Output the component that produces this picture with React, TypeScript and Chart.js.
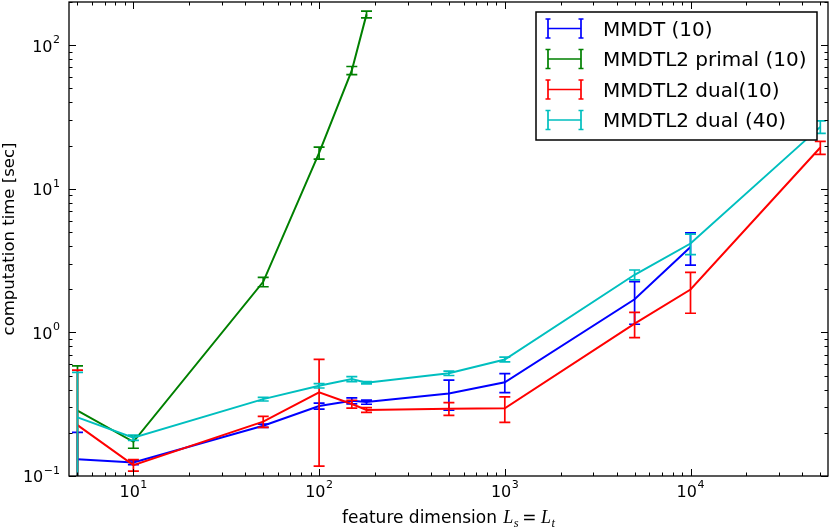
import React, { useEffect, useRef } from "react";
import { Chart, registerables } from "chart.js";

Chart.register(...registerables);

// feature dimensions (x) shared by all runs
const dims = [5, 10, 50, 100, 150, 180, 500, 1000, 5000, 10000, 50000];

const mmdtTime = [0.131, 0.124, 0.224, 0.307, 0.334, 0.327, 0.376, 0.449, 1.7, 3.94];
const mmdtErr = [0.07, 0.004, 0.006, 0.015, 0.016, 0.011, 0.089, 0.068, 0.56, 1.0];

const primalTime = [0.285, 0.173, 2.25, 17.8, 66.8, 164];
const primalErr = [0.3, 0.017, 0.17, 1.7, 4.3, 9];

const dual10Time = [0.226, 0.119, 0.239, 0.383, 0.317, 0.288, 0.294, 0.296, 1.15, 1.99, 19.4];
const dual10Err = [0.32, 0.011, 0.021, 0.266, 0.02, 0.011, 0.03, 0.06, 0.23, 0.63, 2.0];

const dual40Time = [0.256, 0.185, 0.343, 0.425, 0.473, 0.446, 0.519, 0.648, 2.52, 4.16, 27.0];
const dual40Err = [0.27, 0.008, 0.01, 0.015, 0.019, 0.008, 0.018, 0.025, 0.2, 0.68, 2.7];

const xDecades = [10, 100, 1000, 10000];
const yDecades = [0.1, 1, 10, 100];

const series = [
  { label: "MMDT (10)", color: "#0000ff", values: mmdtTime, errors: mmdtErr },
  { label: "MMDTL2 primal (10)", color: "#008000", values: primalTime, errors: primalErr },
  { label: "MMDTL2 dual(10)", color: "#ff0000", values: dual10Time, errors: dual10Err },
  { label: "MMDTL2 dual (40)", color: "#00bfbf", values: dual40Time, errors: dual40Err },
];

const FONT = '"DejaVu Sans", sans-serif';
const MATH = '"Liberation Serif", "DejaVu Serif", serif';
const CAP = 5.5;

const drawPower = (ctx: CanvasRenderingContext2D, value: number, x: number, y: number, align: "center" | "right") => {
  const exp = Math.round(Math.log10(value));
  const sup = exp < 0 ? "\u2212" + -exp : String(exp);
  ctx.font = `16px ${FONT}`;
  const wb = ctx.measureText("10").width;
  ctx.font = `11px ${FONT}`;
  const ws = ctx.measureText(sup).width;
  const total = wb + 0.5 + ws;
  const x0 = align === "center" ? x - total / 2 : x - total;
  ctx.textAlign = "left";
  ctx.textBaseline = "alphabetic";
  ctx.fillStyle = "#000";
  ctx.font = `16px ${FONT}`;
  ctx.fillText("10", x0, y);
  ctx.font = `11px ${FONT}`;
  ctx.fillText(sup, x0 + wb + 0.5, y - 8.5);
};

const errorBars = {
  id: "errorBars",
  afterDatasetDraw(chart: Chart, args: { index: number }) {
    const s = series[args.index];
    const { ctx, chartArea: a } = chart;
    const xs = chart.scales.x;
    const ys = chart.scales.y;
    ctx.save();
    ctx.beginPath();
    ctx.rect(a.left, a.top, a.right - a.left, a.bottom - a.top);
    ctx.clip();
    ctx.strokeStyle = s.color;
    ctx.lineWidth = 1.7;
    s.values.forEach((v, i) => {
      const px = xs.getPixelForValue(dims[i]);
      const hi = v + s.errors[i];
      const lo = v - s.errors[i];
      const pHi = ys.getPixelForValue(hi);
      const pLo = lo > 0 ? ys.getPixelForValue(lo) : a.bottom + 20;
      ctx.beginPath();
      ctx.moveTo(px, pHi);
      ctx.lineTo(px, pLo);
      ctx.moveTo(px - CAP, pHi);
      ctx.lineTo(px + CAP, pHi);
      if (lo > 0) {
        ctx.moveTo(px - CAP, pLo);
        ctx.lineTo(px + CAP, pLo);
      }
      ctx.stroke();
    });
    ctx.restore();
  },
};

const frame = {
  id: "frame",
  afterDraw(chart: Chart) {
    const { ctx, chartArea: a } = chart;
    const xs = chart.scales.x;
    const ys = chart.scales.y;
    ctx.save();

    // inward ticks on all four sides
    ctx.strokeStyle = "#000";
    ctx.lineWidth = 1;
    ctx.beginPath();
    for (let e = Math.floor(Math.log10(xs.min)); e <= Math.ceil(Math.log10(xs.max)); e++) {
      for (let k = 1; k <= 9; k++) {
        const v = k * Math.pow(10, e);
        if (v < xs.min || v > xs.max) continue;
        const p = Math.round(xs.getPixelForValue(v)) + 0.5;
        const len = k === 1 ? 7 : 3.5;
        ctx.moveTo(p, a.bottom);
        ctx.lineTo(p, a.bottom - len);
        ctx.moveTo(p, a.top);
        ctx.lineTo(p, a.top + len);
      }
    }
    for (let e = Math.floor(Math.log10(ys.min)); e <= Math.ceil(Math.log10(ys.max)); e++) {
      for (let k = 1; k <= 9; k++) {
        const v = k * Math.pow(10, e);
        if (v < ys.min * 0.999 || v > ys.max) continue;
        const p = Math.round(ys.getPixelForValue(v)) + 0.5;
        const len = k === 1 ? 7 : 3.5;
        ctx.moveTo(a.left, p);
        ctx.lineTo(a.left + len, p);
        ctx.moveTo(a.right, p);
        ctx.lineTo(a.right - len, p);
      }
    }
    ctx.stroke();

    ctx.lineWidth = 1.3;
    ctx.strokeRect(a.left, a.top, a.right - a.left, a.bottom - a.top);

    // tick labels
    xDecades.forEach((v) => drawPower(ctx, v, xs.getPixelForValue(v), a.bottom + 20.7, "center"));
    yDecades.forEach((v) => drawPower(ctx, v, a.left - 9, ys.getPixelForValue(v) + 6.3, "right"));

    // x title with math part
    const parts = [
      { t: "feature dimension ", font: `17px ${FONT}`, dy: 0, gap: 0 },
      { t: "L", font: `italic 18px ${MATH}`, dy: 0, gap: 1 },
      { t: "s", font: `italic 12.5px ${MATH}`, dy: 3.5, gap: 0.5 },
      { t: "=", font: `17px ${FONT}`, dy: 0, gap: 3.5 },
      { t: "L", font: `italic 18px ${MATH}`, dy: 0, gap: 4.5 },
      { t: "t", font: `italic 12.5px ${MATH}`, dy: 3.5, gap: 0.5 },
    ];
    let total = 0;
    const widths = parts.map((p) => {
      ctx.font = p.font;
      const w = ctx.measureText(p.t).width;
      total += w + p.gap;
      return w;
    });
    let cx = (a.left + a.right) / 2 - total / 2;
    ctx.fillStyle = "#000";
    ctx.textAlign = "left";
    ctx.textBaseline = "alphabetic";
    parts.forEach((p, i) => {
      cx += p.gap;
      ctx.font = p.font;
      ctx.fillText(p.t, cx, 523 + p.dy);
      cx += widths[i];
    });

    // legend
    const box = { left: 536, top: 12, right: 817, bottom: 140 };
    ctx.fillStyle = "#fff";
    ctx.fillRect(box.left, box.top, box.right - box.left, box.bottom - box.top);
    ctx.strokeStyle = "#000";
    ctx.lineWidth = 1.5;
    ctx.strokeRect(box.left, box.top, box.right - box.left, box.bottom - box.top);
    series.forEach((s, i) => {
      const y = 28.5 + i * 30.5;
      const x1 = 548;
      const x2 = 581;
      ctx.strokeStyle = s.color;
      ctx.lineWidth = 1.7;
      ctx.beginPath();
      ctx.moveTo(x1, y);
      ctx.lineTo(x2, y);
      [x1, x2].forEach((x) => {
        ctx.moveTo(x, y - 9.5);
        ctx.lineTo(x, y + 9.5);
        ctx.moveTo(x - 2.5, y - 9.5);
        ctx.lineTo(x + 2.5, y - 9.5);
        ctx.moveTo(x - 2.5, y + 9.5);
        ctx.lineTo(x + 2.5, y + 9.5);
      });
      ctx.stroke();
      ctx.fillStyle = "#000";
      ctx.font = `20px ${FONT}`;
      ctx.textAlign = "left";
      ctx.textBaseline = "alphabetic";
      ctx.fillText(s.label, 603, y + 7.3);
    });

    ctx.restore();
  },
};

export default function App() {
  const canvasRef = useRef<HTMLCanvasElement | null>(null);

  useEffect(() => {
    if (!canvasRef.current) return;
    const chart = new Chart(canvasRef.current, {
      type: "line",
      data: {
        datasets: series.map((s, i) => ({
          label: s.label,
          data: s.values.map((v, j) => ({ x: dims[j], y: v })),
          borderColor: s.color,
          backgroundColor: s.color,
          borderWidth: 2,
          pointRadius: 0,
          tension: 0,
          fill: false,
          order: series.length - i,
        })),
      },
      options: {
        animation: false,
        responsive: true,
        maintainAspectRatio: false,
        layout: { padding: { top: 2, right: 2, left: 0, bottom: 0 } },
        plugins: {
          legend: { display: false },
          tooltip: { enabled: false },
        },
        scales: {
          x: {
            type: "logarithmic",
            min: 4.5,
            max: 55000,
            grid: { display: false, drawTicks: false },
            border: { display: false },
            ticks: { display: false },
            afterFit: (scale: any) => {
              scale.height = 51;
            },
          },
          y: {
            type: "logarithmic",
            min: 0.1,
            max: 200,
            grid: { display: false, drawTicks: false },
            border: { display: false },
            ticks: { display: false },
            title: {
              display: true,
              text: "computation time [sec]",
              color: "#000",
              font: { family: FONT, size: 16.5 },
              padding: 0,
            },
            afterFit: (scale: any) => {
              scale.width = 69;
            },
          },
        },
      },
      plugins: [errorBars as any, frame as any],
    });
    return () => chart.destroy();
  }, []);

  return (
    <div style={{ position: "fixed", left: 0, top: 0, width: 830, height: 527, background: "#fff" }}>
      <canvas ref={canvasRef} />
    </div>
  );
}
